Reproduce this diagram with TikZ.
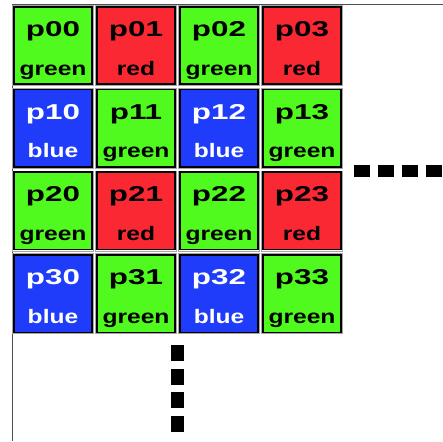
\documentclass[tikz,border=0pt]{standalone}
\usepackage{fontspec}
\setmainfont{Liberation Sans}
\usetikzlibrary{calc}
\definecolor{tgreen}{RGB}{80,250,30}
\definecolor{tred}{RGB}{250,40,50}
\definecolor{tblue}{RGB}{30,60,250}
\definecolor{axisgray}{RGB}{80,80,80}
\tikzset{
  tile/.style={draw=black, line width=1.6pt, minimum width=78.5pt, minimum height=77.5pt,
    inner sep=0pt, outer sep=0pt},
  halo/.style={draw=black!35, line width=0.7pt, minimum width=81pt, minimum height=80pt, inner sep=0pt},
  gtile/.style={tile, fill=tgreen},
  rtile/.style={tile, fill=tred},
  btile/.style={tile, fill=tblue},
  pname/.style={anchor=base, inner sep=0pt, font=\bfseries\fontsize{21.5}{22}\selectfont},
  cname/.style={anchor=base, inner sep=0pt, font=\bfseries\fontsize{19.5}{20}\selectfont},
  hdot/.style={fill=black, minimum width=16pt, minimum height=12pt, inner sep=0pt},
  vdot/.style={fill=black, minimum width=13pt, minimum height=16pt, inner sep=0pt},
  axis/.style={draw=axisgray, line width=1.1pt}
}
% one tile: #1 row, #2 column, #3 style, #4 colour word, #5 text colour
\newcommand{\pixtile}[5]{%
  \pgfmathsetmacro{\cx}{53+83*#2}%
  \pgfmathsetmacro{\cy}{45.5+82.7*#1}%
  \node[halo] (h#1#2) at (\cx,\cy) {};
  \node[#3] (t#1#2) at (\cx,\cy) {};
  \node[pname, text=#5] (p#1#2) at ($(t#1#2.center)+(0,-9)$) {\scalebox{1.46}[1]{p#1#2}};
  \node[cname, text=#5] (c#1#2) at ($(t#1#2.center)+(0,29.5)$) {\scalebox{1.26}[1]{#4}};
}
\begin{document}
\begin{tikzpicture}[x=1pt,y=-1pt]
  \useasboundingbox (0,0) rectangle (443,441);
  % axes along the top and left edges
  \coordinate (origin) at (12.5,4.5);
  \coordinate (xend) at (443,4.5);
  \coordinate (yend) at (12.5,441);
  \draw[axis] (xend) -- (origin) -- (yend);
  % row 0
  \pixtile{0}{0}{gtile}{green}{black}
  \pixtile{0}{1}{rtile}{red}{black}
  \pixtile{0}{2}{gtile}{green}{black}
  \pixtile{0}{3}{rtile}{red}{black}
  % row 1
  \pixtile{1}{0}{btile}{blue}{white}
  \pixtile{1}{1}{gtile}{green}{black}
  \pixtile{1}{2}{btile}{blue}{white}
  \pixtile{1}{3}{gtile}{green}{black}
  % row 2
  \pixtile{2}{0}{gtile}{green}{black}
  \pixtile{2}{1}{rtile}{red}{black}
  \pixtile{2}{2}{gtile}{green}{black}
  \pixtile{2}{3}{rtile}{red}{black}
  % row 3
  \pixtile{3}{0}{btile}{blue}{white}
  \pixtile{3}{1}{gtile}{green}{black}
  \pixtile{3}{2}{btile}{blue}{white}
  \pixtile{3}{3}{gtile}{green}{black}
  % continuation marks to the right
  \foreach \i in {0,...,3} {
    \node[hdot] (hd\i) at (362+24*\i,171) {};
  }
  % continuation marks below
  \foreach \i in {0,...,3} {
    \node[vdot] (vd\i) at (177.5,353+23.7*\i) {};
  }
\end{tikzpicture}
\end{document}
